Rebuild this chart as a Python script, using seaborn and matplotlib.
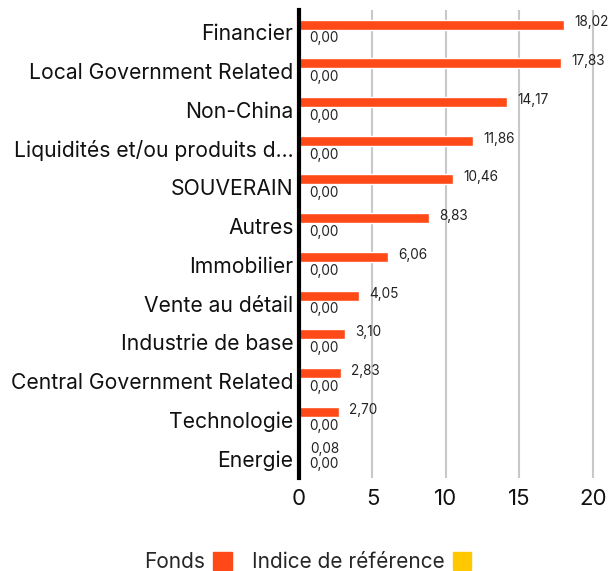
import pandas as pd
import numpy as np
import matplotlib.pyplot as plt
import seaborn as sns
from matplotlib.patches import Patch

# data
categories = ["Financier", "Local Government Related", "Non-China",
              "Liquidités et/ou produits d...", "SOUVERAIN", "Autres",
              "Immobilier", "Vente au détail", "Industrie de base",
              "Central Government Related", "Technologie", "Energie"]
fonds = [18.02, 17.83, 14.17, 11.86, 10.46, 8.83, 6.06, 4.05, 3.10, 2.83, 2.70, 0.08]
indice = [0.00] * 12
series = ["Fonds", "Indice de référence"]
colors = ["#ff4a17", "#ffc800"]

df = pd.DataFrame({
    "cat": categories * 2,
    "val": fonds + indice,
    "serie": [series[0]] * 12 + [series[1]] * 12,
})

sns.set_style("white")
plt.rcParams['font.family'] = ['Inter', 'DejaVu Sans']

fig = plt.figure(figsize=(6.09, 5.71), dpi=100)
ax = fig.add_axes([0.491, 0.163, 0.509, 0.8195])

sns.barplot(data=df, y="cat", x="val", hue="serie", palette=colors,
            order=categories, hue_order=series, orient="h", saturation=1,
            width=0.82, gap=0.37, legend=False, ax=ax)

# value labels
for cont in ax.containers:
    for bar in cont:
        w = bar.get_width()
        yc = bar.get_y() + bar.get_height() / 2
        ax.annotate(f"{w:.2f}".replace(".", ","), (w, yc),
                    xytext=(7.5, 1.5), textcoords="offset points",
                    ha="left", va="center", fontsize=9.8, color="#222222")

ax.set_xlim(0, 21.1)
ax.set_ylim(11.5, -0.58)
ax.set_xticks([0, 5, 10, 15, 20])
ax.xaxis.grid(True, color="#c8c8c8", linewidth=1.5)
ax.set_axisbelow(True)
ax.set_xlabel("")
ax.set_ylabel("")
for s in ["top", "right", "bottom"]:
    ax.spines[s].set_visible(False)
ax.spines["left"].set_color("black")
ax.spines["left"].set_linewidth(3)
ax.tick_params(axis="y", length=0, pad=4, labelsize=15.2, labelcolor="#111111")
ax.tick_params(axis="x", length=0, pad=8, labelsize=16, labelcolor="#111111")
# hide grid line at 0
ax.get_xgridlines()[0].set_visible(False)

handles = [Patch(color=c) for c in colors]
fig.legend(handles, series, loc="lower center", bbox_to_anchor=(0.505, -0.035),
           ncol=2, frameon=False, markerfirst=False, fontsize=15,
           handlelength=0.9, handleheight=0.9, columnspacing=0.95, handletextpad=0.4)

fig.savefig("out.png", dpi=100)
